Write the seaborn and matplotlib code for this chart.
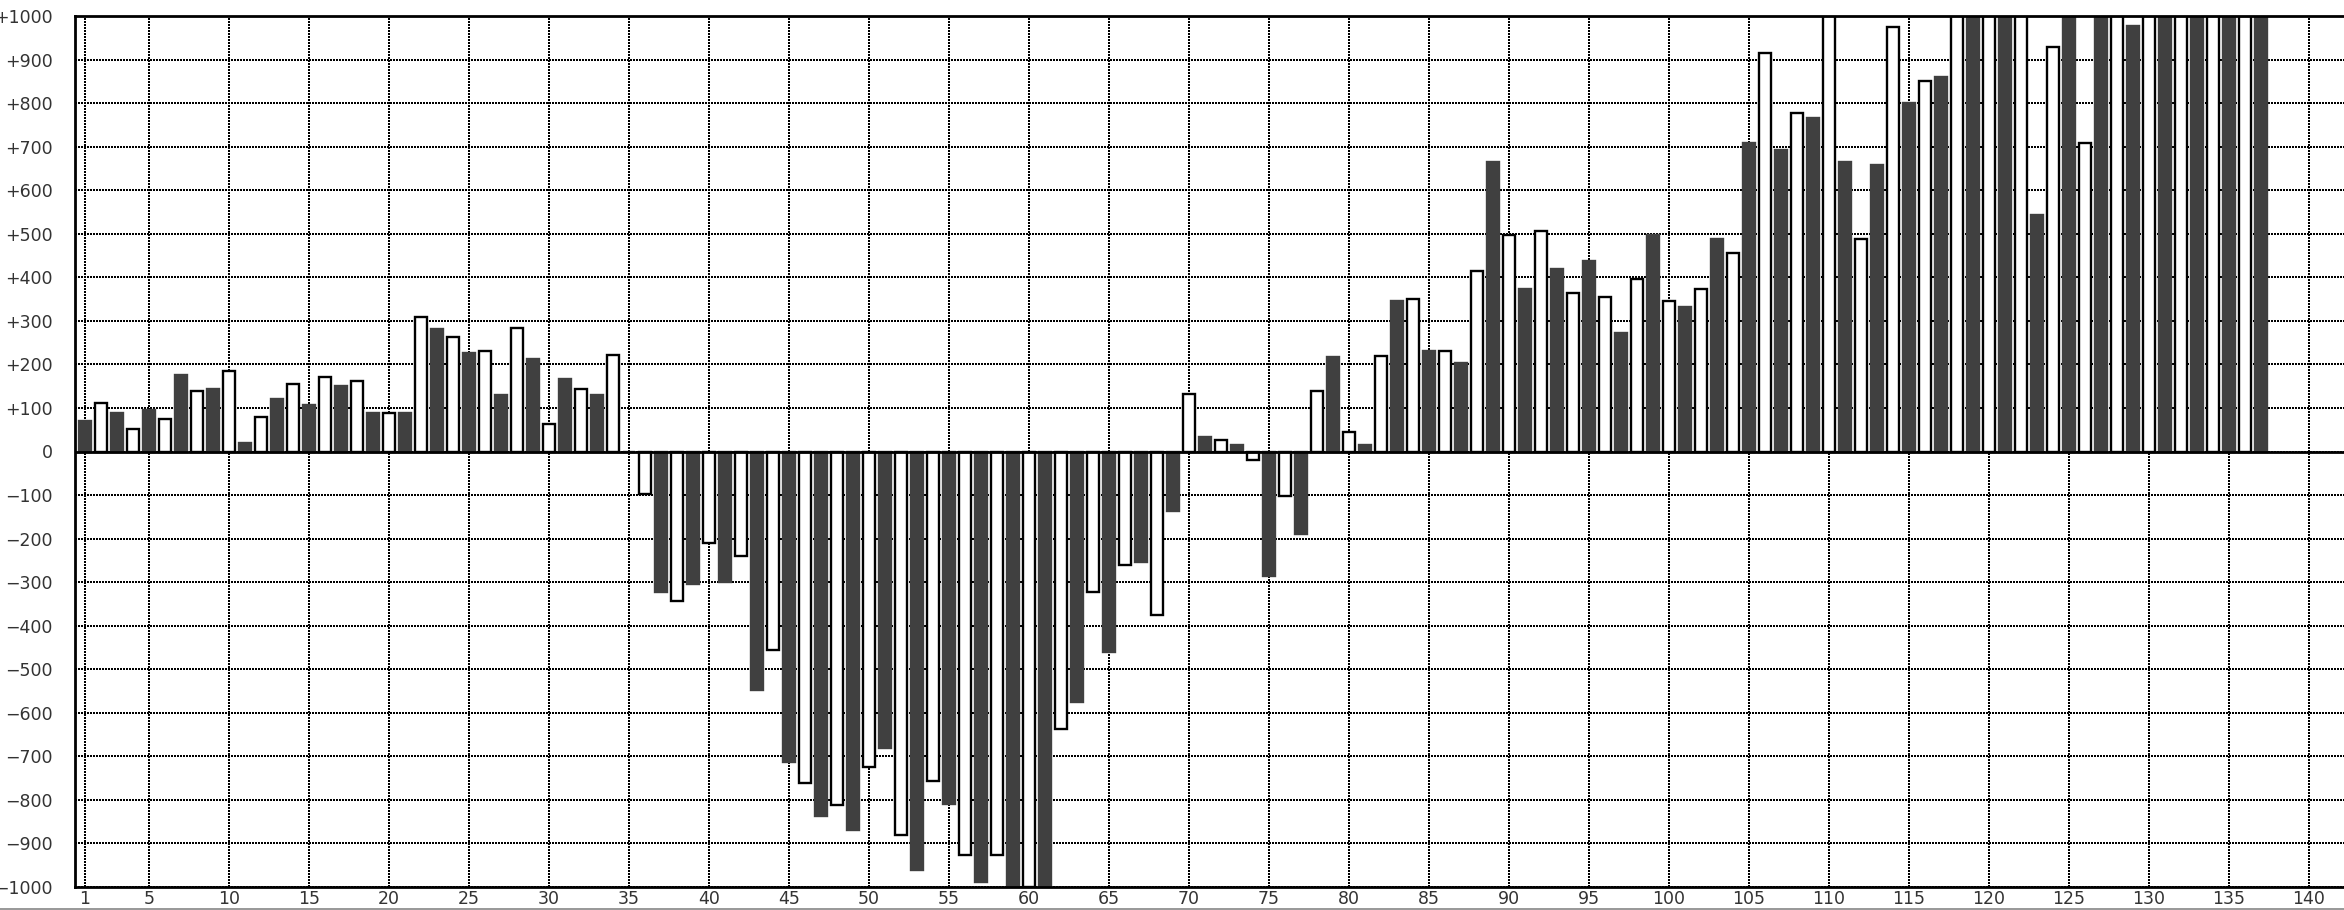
import numpy as np
import pandas as pd
import seaborn as sns
from matplotlib import pyplot as plt
from matplotlib.patches import Rectangle

# bar positions 1..137 and their values
positions = list(range(1, 138))
values = [
    70, 111, 88, 51, 96, 75, 176, 138, 144, 184,
    19, 79, 120, 156, 107, 170, 150, 162, 88, 88,
    88, 308, 282, 263, 227, 230, 130, 284, 212, 64,
    167, 143, 130, 222, 0, -97, -323, -344, -305, -211,
    -299, -239, -548, -455, -713, -762, -836, -812, -868, -725,
    -681, -880, -960, -757, -809, -927, -988, -927, -1000, -1000,
    -1000, -637, -576, -322, -460, -261, -254, -375, -136, 132,
    33, 27, 15, -20, -286, -102, -190, 138, 218, 45,
    15, 220, 346, 350, 231, 230, 203, 414, 664, 497,
    374, 506, 419, 363, 438, 354, 272, 395, 498, 346,
    332, 372, 489, 455, 709, 915, 693, 777, 765, 1000,
    664, 487, 658, 975, 801, 850, 861, 1000, 1000, 1000,
    1000, 1000, 543, 929, 1000, 709, 1000, 1000, 976, 1000,
    1000, 1000, 1000, 1000, 1000, 1000, 1000,
]
series = ["odd" if p % 2 else "even" for p in positions]

x_ticks = [1] + list(range(5, 141, 5))
y_ticks = list(range(-1000, 1001, 100))
y_labels = [("+%d" % v if v > 0 else ("0" if v == 0 else "\u2212%d" % -v)) for v in y_ticks]

df = pd.DataFrame({"pos": positions, "value": values, "series": series})

sns.set_style("white")
plt.rcParams["font.family"] = ["DejaVu Sans"]

W, H = 2344, 910
fig = plt.figure(figsize=(W / 100, H / 100), dpi=100)
ax = fig.add_axes([75 / W, (H - 887) / H, (W - 75) / W, (887 - 16) / H])

sns.barplot(
    data=df, x="pos", y="value", hue="series",
    palette={"odd": "#404040", "even": "white"},
    native_scale=True, dodge=False, width=0.75, saturation=1,
    edgecolor="black", linewidth=1.7, legend=False, ax=ax,
)
for p in ax.patches:
    fc = p.get_facecolor()
    if fc[0] < 0.5:
        p.set_edgecolor(fc)

ax.axhline(0, color="black", lw=2, zorder=5)

ax.set_xlim(0.375, (W - 69) / 16)
ax.set_ylim(-1000, 1000)
ax.set_xticks(x_ticks)
ax.set_xticklabels([str(t) for t in x_ticks])
ax.set_yticks(y_ticks)
ax.set_yticklabels(y_labels)
ax.set_xlabel("")
ax.set_ylabel("")

ax.set_axisbelow(True)
ax.grid(True, color="black", linestyle=(0, (1, 1)), linewidth=1.44, antialiased=False)
ax.tick_params(axis="both", length=0, labelsize=12.5, labelcolor="#333333")
ax.tick_params(axis="x", pad=2)
ax.tick_params(axis="y", pad=16)

for side in ["left", "top", "bottom"]:
    ax.spines[side].set_visible(True)
    ax.spines[side].set_color("black")
    ax.spines[side].set_linewidth(2)
ax.spines["right"].set_visible(False)

# thin grey strip along the bottom edge
fig.add_artist(Rectangle((0, 0), 1, 2.5 / H, transform=fig.transFigure,
                         facecolor="#9a9a9a", edgecolor="none"))

fig.savefig("out.png", dpi=100)
plt.close(fig)
